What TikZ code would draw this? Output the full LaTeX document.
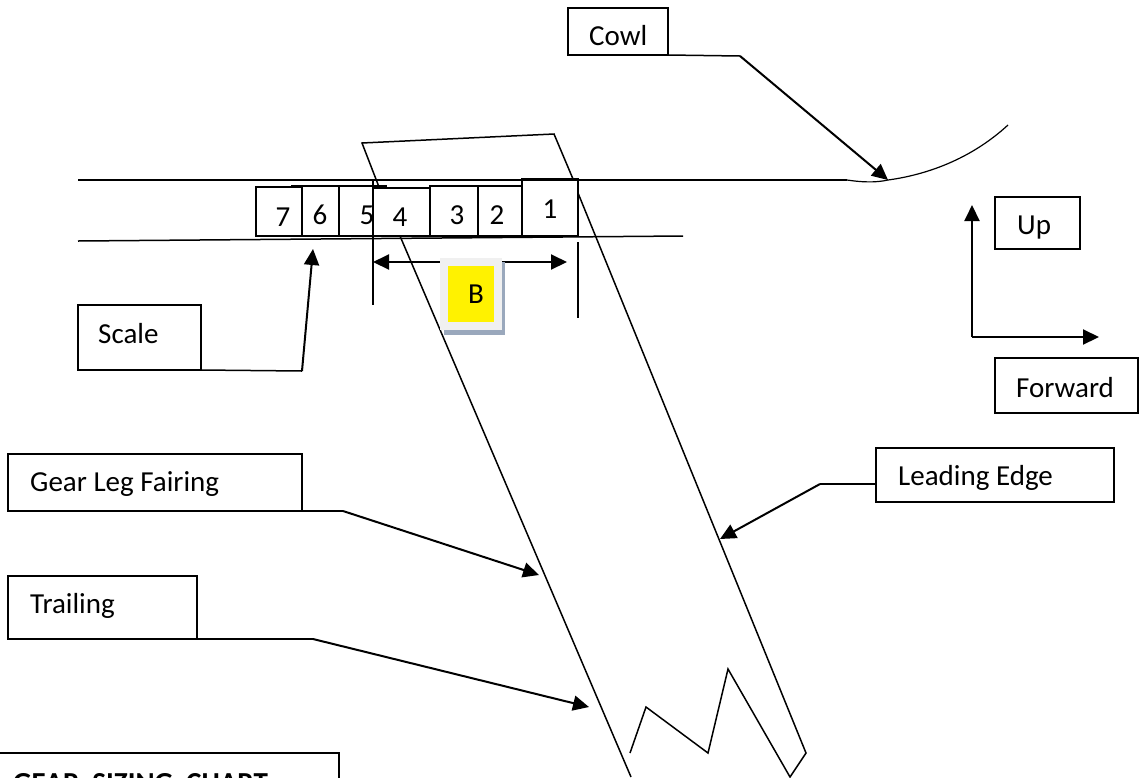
\documentclass[tikz,border=0pt]{standalone}
\usepackage{fontspec}
\setmainfont{Carlito}
\usetikzlibrary{arrows.meta}
\definecolor{shadowc}{HTML}{9AA8BC}
\definecolor{framec}{HTML}{F0F0F0}
\begin{document}
\begin{tikzpicture}[x=1pt,y=-1pt,
  ln/.style={line width=1.5pt,black},
  arr/.style={line width=2pt,black,-{Triangle[length=16pt,width=15pt]}},
  lab/.style={inner sep=0pt,font=\fontsize{29}{31}\selectfont,anchor=base west},
  num/.style={inner sep=0pt,font=\fontsize{29}{31}\selectfont,anchor=base}]
\useasboundingbox (0,0) rectangle (1139,777);
\clip (0,0) rectangle (1139,777);
\fill[white] (0,0) rectangle (1139,777);
\foreach \n/\x/\y in {a1/78/180,a2/847/180,b1/78/241,b2/683/236,
  cw/1008/125,tp1/362/143,tp2/554/134,tp3/573/179,tp4/379/187,
  bar1/291/186,bar2/387/186,
  le1/578/193,le2/806/753,le3/790/777,z1/728/669,z2/708/753,z3/646/707,z4/630/753,
  te1/400/236,te2/631/777,
  v1a/373/179,v1b/373/305,v2a/578/242,v2b/578/318,
  ba/373/262,bb/567/262,
  cow1/668/55,cow2/740/56,cow3/888/180,
  sc1/201/370,sc2/302/371,sc3/313/249,
  gl1/302/511,gl2/343/511,gl3/539/575,
  tr1/197/639,tr2/313/639,tr3/589/707,
  ld1/876/484,ld2/820/484,ld3/720/539,
  o/972/337,up/972/205,fw/1099/337}
  {\coordinate (\n) at (\x,\y);}
\foreach \n/\xa/\ya/\xb/\yb in {s7/256/187/302/236,s6/302/186/339/236,s5/339/186/373/236,s4/373/188/430/236,s3/430/186/478/236,s2/478/186/522/236,s1/522/179/578/236}
  {\draw[ln] (\xa,\ya) rectangle (\xb,\yb);}
\draw[ln] (a1)--(a2);
\draw[ln] (b1)--(b2);
\draw[ln,line width=1.2pt] (a2) .. controls (860,182) and (875,183) .. (cow3) .. controls (925,175) and (970,160) .. (cw);
\draw[ln] (tp4)--(tp1)--(tp2)--(tp3);
\draw[ln] (bar1)--(bar2);
\draw[ln] (le1)--(le2)--(le3)--(z1)--(z2)--(z3)--(z4);
\draw[ln] (te1)--(te2);
\draw[ln] (v1a)--(v1b);
\draw[ln] (v2a)--(v2b);
\draw[arr,{Triangle[length=16pt,width=15pt]}-{Triangle[length=16pt,width=15pt]}] (ba)--(bb);
% B box
\fill[shadowc] (444,262) rectangle (505,335);
\fill[framec] (440,258) rectangle (502,330);
\fill[yellow] (448,266) rectangle (494,322);
\node[lab] (B) at (468,303) {B};
\node[num] (n7) at (283,226) {7};
\node[num] (n6) at (320,224) {6};
\node[num] (n5) at (367,224) {5};
\node[num] (n4) at (400,226) {4};
\node[num] (n3) at (457,224) {3};
\node[num] (n2) at (497,224) {2};
\node[num] (n1) at (550,218) {1};
\draw[ln] (568,8) rectangle (668,55);
\node[lab] (cowl) at (589,45) {Cowl};
\draw[ln] (995,197) rectangle (1080,249);
\node[lab] (uplab) at (1017,234) {Up};
\draw[ln] (995,358) rectangle (1138,413);
\node[lab] (fwd) at (1016,397) {Forward};
\draw[ln] (78,305) rectangle (201,370);
\node[lab] (scale) at (98,343) {Scale};
\draw[ln] (8,454) rectangle (302,511);
\node[lab] (gear) at (30,491) {Gear Leg Fairing};
\draw[ln] (8,576) rectangle (197,639);
\node[lab] (trail) at (30,613) {Trailing};
\draw[ln] (876,448) rectangle (1114,502);
\node[lab] (lead) at (898,485) {Leading Edge};
\draw[ln] (-2,753) rectangle (339,800);
\node[lab,font=\fontsize{29}{31}\selectfont\bfseries] (chart) at (13,792) {GEAR\ \ SIZING\ \ CHART};
\draw[ln] (cow1)--(cow2);
\draw[arr] (cow2)--(cow3);
\draw[ln] (sc1)--(sc2);
\draw[arr] (sc2)--(sc3);
\draw[ln] (gl1)--(gl2);
\draw[arr] (gl2)--(gl3);
\draw[ln] (tr1)--(tr2);
\draw[arr] (tr2)--(tr3);
\draw[ln] (ld1)--(ld2);
\draw[arr] (ld2)--(ld3);
\draw[arr] (o)--(up);
\draw[arr] (o)--(fw);
\end{tikzpicture}
\end{document}
